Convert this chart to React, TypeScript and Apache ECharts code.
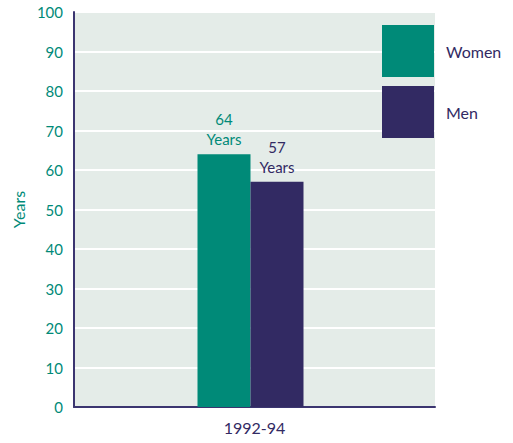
import React, { useEffect, useRef } from "react";
import * as echarts from "echarts";

const categories = ["1992-94"];
const women = [64];
const men = [57];
const seriesNames = ["Women", "Men"];

const TEAL = "#008a78";
const PURPLE = "#322a63";
const FONT = "Lato, 'Open Sans', sans-serif";

export default function App() {
  const ref = useRef<HTMLDivElement>(null);
  useEffect(() => {
    const chart = echarts.init(ref.current!, null, { renderer: "svg" });
    const label = (color: string) => ({
      show: true,
      position: "top",
      distance: 5,
      formatter: (p: any) => p.value + "\nYears",
      color,
      fontSize: 15,
      lineHeight: 20,
      fontFamily: FONT,
    });
    chart.setOption({
      animation: false,
      textStyle: { fontFamily: FONT },
      grid: {
        left: 74,
        right: 78,
        top: 12,
        bottom: 36,
        show: true,
        backgroundColor: "#e4ece8",
        borderWidth: 0,
        containLabel: false,
      },
      legend: {
        orient: "vertical",
        left: 377,
        top: 20,
        itemWidth: 52,
        itemHeight: 52,
        itemGap: 9,
        icon: "rect",
        data: seriesNames,
        textStyle: { color: PURPLE, fontSize: 16, fontFamily: FONT, padding: [0, 0, 0, 7] },
      },
      xAxis: {
        type: "category",
        data: categories,
        axisLine: { show: true, lineStyle: { color: "#3b3570", width: 2 } },
        axisTick: { show: false },
        axisLabel: { color: PURPLE, fontSize: 16, margin: 12, fontFamily: FONT },
      },
      yAxis: {
        type: "value",
        min: 0,
        max: 100,
        interval: 10,
        name: "Years",
        nameLocation: "middle",
        nameGap: 41,
        nameRotate: 90,
        nameTextStyle: { color: TEAL, fontSize: 16, fontFamily: FONT },
        axisLine: { show: true, lineStyle: { color: "#3b3570", width: 2 } },
        axisTick: { show: false },
        axisLabel: { color: TEAL, fontSize: 15, margin: 11, fontFamily: FONT },
        splitLine: { show: true, lineStyle: { color: "#ffffff", width: 2 } },
      },
      series: [
        {
          name: seriesNames[0],
          type: "bar",
          data: women,
          barWidth: 53,
          barGap: "0%",
          itemStyle: { color: TEAL },
          label: label(TEAL),
        },
        {
          name: seriesNames[1],
          type: "bar",
          data: men,
          barWidth: 53,
          itemStyle: { color: PURPLE },
          label: label(PURPLE),
        },
        {
          name: "spacer",
          type: "bar",
          data: [0],
          barWidth: 8,
          itemStyle: { opacity: 0 },
          silent: true,
        },
      ],
    });
    return () => chart.dispose();
  }, []);
  return (
    <div
      ref={ref}
      style={{ width: 513, height: 443, position: "absolute", left: 0, top: 0 }}
    />
  );
}
